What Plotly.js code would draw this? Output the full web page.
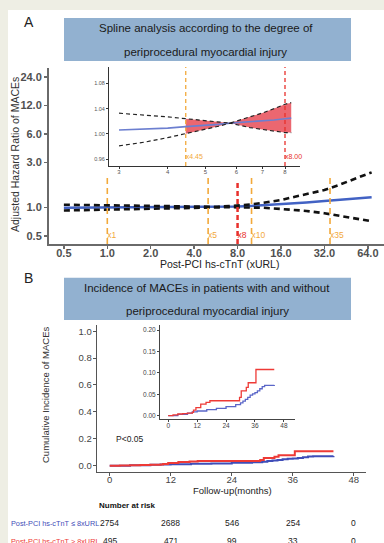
<!DOCTYPE html>
<html><head><meta charset="utf-8">
<script src="https://cdn.plot.ly/plotly-3.0.1.min.js"></script>
<style>html,body{margin:0;padding:0;background:#fff;}#chart{width:384px;height:543px;}</style>
</head><body><div id="chart"></div>
<script>
// ---------- Panel A: spline (main) ----------
const xA  = [0.5, 0.7, 1, 1.4, 2, 2.8, 3, 4, 4.45, 5, 5.78, 7, 8, 10, 12, 16, 20, 24, 32, 40, 48, 56, 68];
const hrA = [0.995, 0.997, 0.999, 1.001, 1.003, 1.005, 1.006, 1.010, 1.0115, 1.013, 1.017, 1.021, 1.024, 1.04, 1.055, 1.085, 1.11, 1.13, 1.17, 1.2, 1.23, 1.255, 1.285];
const upA = [1.07, 1.06, 1.055, 1.048, 1.042, 1.035, 1.033, 1.026, 1.024, 1.021, 1.017, 1.035, 1.047, 1.08, 1.12, 1.2, 1.3, 1.38, 1.53, 1.72, 1.9, 2.1, 2.35];
const loA = [0.93, 0.94, 0.95, 0.96, 0.97, 0.978, 0.981, 0.995, 1.0, 1.007, 1.017, 1.008, 1.002, 1.0, 0.995, 0.965, 0.94, 0.92, 0.87, 0.82, 0.78, 0.75, 0.715];
// ---------- Panel A: inset ----------
const xIn  = [3, 3.5, 4, 4.45, 5, 5.4, 5.78, 6.5, 7, 7.5, 8, 8.3];
const hrIn = [1.006, 1.0075, 1.009, 1.0115, 1.013, 1.015, 1.017, 1.019, 1.021, 1.022, 1.024, 1.025];
const upIn = [1.0327, 1.030, 1.027, 1.024, 1.021, 1.019, 1.017, 1.027, 1.033, 1.040, 1.047, 1.0495];
const loIn = [0.981, 0.987, 0.994, 1.000, 1.007, 1.012, 1.017, 1.010, 1.007, 1.004, 1.002, 1.002];
const cutMain = [1, 5, 8, 10, 35];
const cutMainLabels = ['x1', 'x5', 'x8', 'x10', 'x35'];
const cutInset = [4.45, 8];
const cutInsetLabels = ['x4.45', 'x8.00'];
const xTicksA = [0.5, 1, 2, 4, 8, 16, 32, 64];
const xTickTextA = ['0.5', '1.0', '2.0', '4.0', '8.0', '16.0', '32.0', '64.0'];
const yTicksA = [0.5, 1, 3, 6, 12, 24];
const yTickTextA = ['0.5', '1.0', '3.0', '6.0', '12.0', '24.0'];
const xTicksIn = [3, 4, 5, 6, 7, 8];
const yTicksIn = [0.96, 1.00, 1.04, 1.08];
const yTickTextIn = ['0.96', '1.00', '1.04', '1.08'];
// ---------- Panel B: cumulative incidence ----------
const tHigh = [0, 2, 4, 6, 8, 10, 10.5, 11.5, 13.5, 15.7, 17.3, 29.6, 30.3, 32.4, 33.2, 36.4, 44];
const cHigh = [0, 0.002, 0.004, 0.005, 0.006, 0.008, 0.013, 0.019, 0.027, 0.031, 0.035, 0.043, 0.058, 0.066, 0.077, 0.108, 0.108];
const tLow = [0, 4, 8, 10, 12, 16, 20, 24, 28, 30, 31, 32, 33, 34, 35, 36, 37, 38, 39, 40, 44];
const cLow = [0, 0.003, 0.006, 0.009, 0.011, 0.014, 0.017, 0.021, 0.026, 0.030, 0.034, 0.038, 0.043, 0.048, 0.051, 0.054, 0.058, 0.063, 0.068, 0.071, 0.072];
const xTicksB = [0, 12, 24, 36, 48];
const yTicksB = [0, 0.2, 0.4, 0.6, 0.8, 1.0];
const yTickTextB = ['0.0', '0.2', '0.4', '0.6', '0.8', '1.0'];
const yTicksBIn = [0, 0.05, 0.10, 0.15, 0.20];
const yTickTextBIn = ['0.00', '0.05', '0.10', '0.15', '0.20'];
const riskTimes = [0, 12, 24, 36, 48];
const riskLow = [2754, 2688, 546, 254, 0];
const riskHigh = [495, 471, 99, 33, 0];
const groupLabels = ['Post-PCI hs-cTnT \u2264 8xURL', 'Post-PCI hs-cTnT > 8xURL'];

const FONT = 'Liberation Sans, Arial, sans-serif';
const W = 384, H = 543;
const px = v => v / W, py = v => 1 - v / H;
const ORANGE = '#f2a93b', RED = '#e8302c', BLUE = '#4262c4', BLUE_L = '#6c7fd0', KRED = '#ee3a36', KBLUE = '#3f4db8';

const traces = [];
// Panel A main
traces.push({x: xA, y: hrA, xaxis: 'x', yaxis: 'y', mode: 'lines', line: {color: BLUE, width: 2.5}, hoverinfo: 'skip'});
traces.push({x: xA, y: upA, xaxis: 'x', yaxis: 'y', mode: 'lines', line: {color: '#111', width: 2.6, dash: '6px,4px'}, hoverinfo: 'skip'});
traces.push({x: xA, y: loA, xaxis: 'x', yaxis: 'y', mode: 'lines', line: {color: '#111', width: 2.6, dash: '6px,4px'}, hoverinfo: 'skip'});
cutMain.forEach((c, i) => {
  const isRed = c === 8;
  traces.push({x: [c, c], y: [0.4115, isRed ? 1.87 : 2.1], xaxis: 'x', yaxis: 'y', mode: 'lines',
    line: {color: isRed ? RED : ORANGE, width: isRed ? 2.5 : 1.6, dash: isRed ? '5px,3px' : '6px,4px'}, hoverinfo: 'skip'});
  traces.push({x: [c], y: [0.507], xaxis: 'x', yaxis: 'y', mode: 'text', text: [cutMainLabels[i]], textposition: 'middle right',
    textfont: {family: FONT, size: 8.5, color: isRed ? RED : ORANGE}, cliponaxis: false, hoverinfo: 'skip'});
});
// Panel A inset
const fillIdx = xIn.map((v, i) => i).filter(i => xIn[i] >= 4.45);
traces.push({x: fillIdx.map(i => xIn[i]), y: fillIdx.map(i => loIn[i]), xaxis: 'x2', yaxis: 'y2', mode: 'lines', line: {width: 0, color: 'rgba(0,0,0,0)'}, hoverinfo: 'skip'});
traces.push({x: fillIdx.map(i => xIn[i]), y: fillIdx.map(i => upIn[i]), xaxis: 'x2', yaxis: 'y2', mode: 'lines', line: {width: 0, color: 'rgba(0,0,0,0)'}, fill: 'tonexty', fillcolor: 'rgba(228,52,64,0.75)', hoverinfo: 'skip'});
cutInset.forEach((c, i) => {
  const isRed = c === 8;
  traces.push({x: [c, c], y: [0.949, 1.106], xaxis: 'x2', yaxis: 'y2', mode: 'lines',
    line: {color: isRed ? RED : ORANGE, width: 1.3, dash: '4px,3px'}, hoverinfo: 'skip'});
  traces.push({x: [c], y: [0.9625], xaxis: 'x2', yaxis: 'y2', mode: 'text', text: [cutInsetLabels[i]], textposition: 'middle right',
    textfont: {family: FONT, size: 7, color: isRed ? RED : ORANGE}, cliponaxis: false, hoverinfo: 'skip'});
});
traces.push({x: xIn, y: hrIn, xaxis: 'x2', yaxis: 'y2', mode: 'lines', line: {color: BLUE_L, width: 1.6}, hoverinfo: 'skip'});
traces.push({x: xIn, y: upIn, xaxis: 'x2', yaxis: 'y2', mode: 'lines', line: {color: '#222', width: 1.2, dash: '4px,3px'}, hoverinfo: 'skip'});
traces.push({x: xIn, y: loIn, xaxis: 'x2', yaxis: 'y2', mode: 'lines', line: {color: '#222', width: 1.2, dash: '4px,3px'}, hoverinfo: 'skip'});
// Panel B main
traces.push({x: tLow, y: cLow, xaxis: 'x3', yaxis: 'y3', mode: 'lines', line: {color: KBLUE, width: 2, shape: 'hv'}, hoverinfo: 'skip'});
traces.push({x: tHigh, y: cHigh, xaxis: 'x3', yaxis: 'y3', mode: 'lines', line: {color: KRED, width: 2, shape: 'hv'}, hoverinfo: 'skip'});
// Panel B inset
traces.push({x: tLow, y: cLow, xaxis: 'x4', yaxis: 'y4', mode: 'lines', line: {color: '#5a66c8', width: 1.3, shape: 'hv'}, hoverinfo: 'skip'});
traces.push({x: tHigh, y: cHigh, xaxis: 'x4', yaxis: 'y4', mode: 'lines', line: {color: KRED, width: 1.3, shape: 'hv'}, hoverinfo: 'skip'});

function ax(o) {
  return Object.assign({showgrid: false, zeroline: false, showline: true, ticks: 'outside', tickmode: 'array', fixedrange: true}, o);
}
const layout = {
  width: W, height: H, autosize: false, showlegend: false,
  margin: {l: 0, r: 0, t: 0, b: 0, pad: 0},
  paper_bgcolor: '#ffffff', plot_bgcolor: 'rgba(0,0,0,0)',
  font: {family: FONT, color: '#222'},
  xaxis: ax({type: 'log', domain: [px(49), 1], range: [-0.4042, 1.9183], anchor: 'y', linecolor: '#6a6a6a', linewidth: 2,
    tickcolor: '#6a6a6a', ticklen: 3, tickwidth: 1.5, tickvals: xTicksA, ticktext: xTickTextA, ticklabelstandoff: -5,
    tickfont: {family: FONT, size: 11, color: '#505050', weight: 'bold'}}),
  yaxis: ax({type: 'log', domain: [py(244), py(68)], range: [-0.3855, 1.4735], anchor: 'x', linecolor: '#6a6a6a', linewidth: 2,
    tickcolor: '#6a6a6a', ticklen: 3, tickwidth: 1.5, tickvals: yTicksA, ticktext: yTickTextA,
    tickfont: {family: FONT, size: 11, color: '#505050', weight: 'bold'}}),
  xaxis2: ax({type: 'log', domain: [px(109), px(300)], range: [0.4514, 0.9416], anchor: 'y2', linecolor: '#333', linewidth: 1,
    tickcolor: '#333', ticklen: 2, tickvals: xTicksIn, ticktext: xTicksIn.map(String), ticklabelstandoff: -2, tickfont: {family: FONT, size: 6, color: '#555'}}),
  yaxis2: ax({domain: [py(166), py(67)], range: [0.949, 1.106], anchor: 'x2', linecolor: '#333', linewidth: 1,
    tickcolor: '#333', ticklen: 2, tickvals: yTicksIn, ticktext: yTickTextIn, tickfont: {family: FONT, size: 5.5, color: '#555'}}),
  xaxis3: ax({domain: [px(97), px(366)], range: [-2.5, 50.4], anchor: 'y3', linecolor: '#555', linewidth: 1.3,
    tickcolor: '#555', ticklen: 3, tickvals: xTicksB, ticktext: xTicksB.map(String), ticklabelstandoff: -5, tickfont: {family: FONT, size: 9.5, color: '#444'}}),
  yaxis3: ax({domain: [py(472), py(325)], range: [-0.047, 1.046], anchor: 'x3', linecolor: '#555', linewidth: 1.3,
    tickcolor: '#555', ticklen: 3, tickvals: yTicksB, ticktext: yTickTextB, ticklabelstandoff: -1, tickfont: {family: FONT, size: 9.5, color: '#444'}}),
  xaxis4: ax({domain: [px(160), px(295)], range: [-3.4, 52.6], anchor: 'y4', linecolor: '#444', linewidth: 1,
    tickcolor: '#444', ticklen: 2, tickvals: xTicksB, ticktext: xTicksB.map(String), ticklabelstandoff: -2, tickfont: {family: FONT, size: 6.5, color: '#444'}}),
  yaxis4: ax({domain: [py(419.3), py(325)], range: [-0.0084, 0.212], anchor: 'x4', linecolor: '#444', linewidth: 1,
    tickcolor: '#444', ticklen: 2, tickvals: yTicksBIn, ticktext: yTickTextBIn, tickfont: {family: FONT, size: 6.5, color: '#444'}}),
  shapes: [
    {type: 'rect', xref: 'paper', yref: 'paper', x0: 0, x1: px(8), y0: 0, y1: 1, fillcolor: '#eeeee4', line: {width: 0}, layer: 'above'},
    {type: 'rect', xref: 'paper', yref: 'paper', x0: 0, x1: 1, y0: py(10), y1: 1, fillcolor: '#eeeee4', line: {width: 0}, layer: 'above'},
    {type: 'rect', xref: 'paper', yref: 'paper', x0: px(64), x1: px(351), y0: py(61), y1: py(18), fillcolor: '#92b1d0', line: {width: 0}, layer: 'below'},
    {type: 'rect', xref: 'paper', yref: 'paper', x0: px(64), x1: px(351), y0: py(320), y1: py(277.7), fillcolor: '#92b1d0', line: {width: 0}, layer: 'below'}
  ],
  annotations: []
};
function txt(t, x, y, o) {
  layout.annotations.push(Object.assign({text: t, xref: 'paper', yref: 'paper', x: px(x), y: py(y), showarrow: false,
    xanchor: 'center', yanchor: 'middle', font: {family: FONT, size: 10, color: '#222'}}, o || {}));
}
txt('A', 29, 22, {font: {family: FONT, size: 14, color: '#222'}});
txt('B', 28, 278, {font: {family: FONT, size: 14, color: '#222'}});
txt('Spline analysis according to the degree of', 205.5, 27.5, {font: {family: FONT, size: 11.5, color: '#1a1a1a'}});
txt('periprocedural myocardial injury', 205.5, 51.5, {font: {family: FONT, size: 11.5, color: '#1a1a1a'}});
txt('Incidence of MACEs in patients with and without', 207.2, 288.3, {font: {family: FONT, size: 11.5, color: '#1a1a1a'}});
txt('periprocedural myocardial injury', 207.5, 311, {font: {family: FONT, size: 11.5, color: '#1a1a1a'}});
txt('Adjusted Hazard Ratio of MACEs', 15, 155, {textangle: -90, font: {family: FONT, size: 10.5, color: '#333'}});
txt('Post-PCI hs-cTnT (xURL)', 219, 264, {font: {family: FONT, size: 10.5, color: '#222'}});
txt('Cumulative Incidence of MACEs', 45, 395, {textangle: -90, font: {family: FONT, size: 9.5, color: '#333'}});
txt('Follow-up(months)', 232, 490, {font: {family: FONT, size: 9.5, color: '#222'}});
txt('P<0.05', 114, 439.3, {xanchor: 'left', font: {family: FONT, size: 8.5, color: '#222'}});
txt('Number at risk', 97, 505, {xanchor: 'left', font: {family: FONT, size: 8, color: '#111', weight: 'bold'}});
txt(groupLabels[0], 9.3, 523.3, {xanchor: 'left', font: {family: FONT, size: 7.3, color: KBLUE}});
txt(groupLabels[1], 9.3, 541, {xanchor: 'left', font: {family: FONT, size: 7.3, color: KRED}});
riskTimes.forEach((t, i) => {
  layout.annotations.push({text: String(riskLow[i]), xref: 'x3', yref: 'paper', x: t, y: py(523.3), showarrow: false,
    xanchor: 'center', yanchor: 'middle', font: {family: FONT, size: 8.5, color: '#222'}});
  layout.annotations.push({text: String(riskHigh[i]), xref: 'x3', yref: 'paper', x: t, y: py(541), showarrow: false,
    xanchor: 'center', yanchor: 'middle', font: {family: FONT, size: 8.5, color: '#222'}});
});
Plotly.newPlot('chart', traces, layout, {staticPlot: true, displayModeBar: false});
</script></body></html>
